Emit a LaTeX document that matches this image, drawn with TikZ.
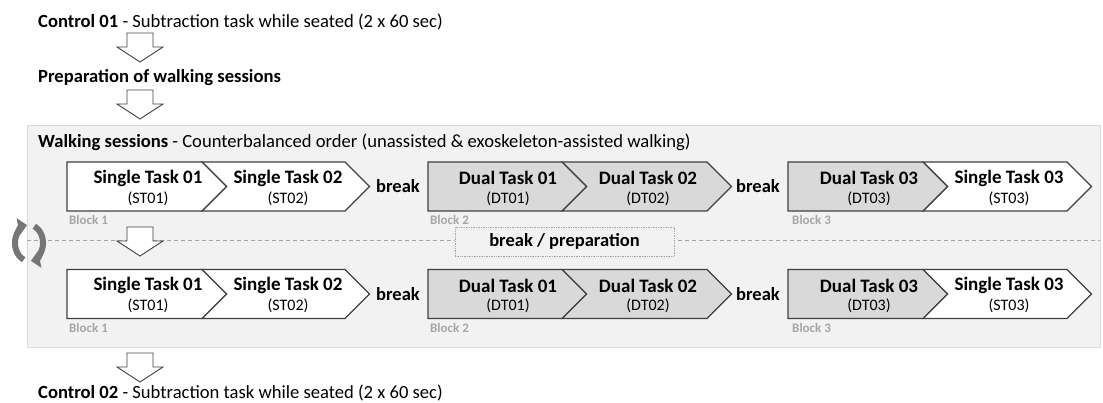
\documentclass[tikz,border=0pt]{standalone}
\usepackage{fontspec}
\setmainfont{Carlito}
\usetikzlibrary{arrows.meta}
\definecolor{panelfill}{HTML}{F2F2F2}
\definecolor{panelline}{HTML}{DADADA}
\definecolor{darkline}{HTML}{404040}
\definecolor{dualfill}{HTML}{D9D9D9}
\definecolor{labelgray}{HTML}{A6A6A6}
\definecolor{icongray}{HTML}{767676}
\tikzset{
  x=1pt, y=-1pt,
  maintext/.style={anchor=base west, inner sep=0pt, font=\fontsize{18.6}{22}\selectfont, text=black},
  taskname/.style={inner sep=0pt, font=\fontsize{19}{22}\selectfont\bfseries},
  taskcode/.style={inner sep=0pt, font=\fontsize{16}{18}\selectfont},
  breaklbl/.style={inner sep=0pt, font=\fontsize{18.5}{22}\selectfont\bfseries},
  blocklbl/.style={anchor=west, inner sep=0pt, font=\fontsize{13}{15}\selectfont\bfseries, text=labelgray},
  singlebox/.style={draw=darkline, fill=white, line width=1.1pt, line join=miter},
  dualbox/.style={draw=darkline, fill=dualfill, line width=1.1pt, line join=miter},
  blockarrow/.style={draw=darkline, fill=white, line width=0.9pt, line join=miter},
  cyc/.style={draw=icongray, line width=6pt, -{Triangle[length=9pt,width=17pt]}},
}
% hollow down arrow: #1 = centre x, #2 = top y
\newcommand{\downarrowshape}[2]{%
  \draw[blockarrow] (#1-13,#2) -- (#1+13,#2) -- (#1+13,#2+14) -- (#1+23,#2+14)
    -- (#1,#2+29) -- (#1-23,#2+14) -- (#1-13,#2+14) -- cycle;}
% first chevron (flat left): #1 style, #2 left x, #3 corner x, #4 top y
\newcommand{\firstchev}[4]{%
  \draw[#1] (#2,#4) -- (#3,#4) -- (#3+24.5,#4+24.5) -- (#3,#4+49) -- (#2,#4+49) -- cycle;}
% notched chevron: #1 style, #2 left x, #3 corner x, #4 top y
\newcommand{\nextchev}[4]{%
  \draw[#1] (#2,#4) -- (#3,#4) -- (#3+24.5,#4+24.5) -- (#3,#4+49) -- (#2,#4+49) -- (#2+24.5,#4+24.5) -- cycle;}
\begin{document}
\begin{tikzpicture}
\useasboundingbox (0,0) rectangle (1103,403);

% top part
\node[maintext] (c1) at (38,28) {\textbf{Control 01} - Subtraction task while seated (2 x 60 sec)};
\downarrowshape{140}{33}
\node[maintext] (prep) at (38,83) {\textbf{Preparation of walking sessions}};
\downarrowshape{140}{90}

% panel
\draw[panelline, fill=panelfill, line width=0.8pt] (27,125) rectangle (1100,347);
\node[maintext] (ws) at (38,148) {\textbf{Walking sessions} - Counterbalanced order (unassisted \& exoskeleton-assisted walking)};

% dashed separator
\coordinate (dl) at (27,240);
\coordinate (dr) at (1100,240);
\draw[labelgray, line width=0.8pt, dash pattern=on 4pt off 3pt] (dl) -- (dr);
\node[draw=labelgray, densely dotted, line width=0.7pt, fill=panelfill, minimum width=219pt, minimum height=29pt, inner sep=0pt,
      font=\fontsize{18.5}{22}\selectfont\bfseries] (bp) at (564.5,241.5) {break / preparation};
\downarrowshape{140}{227}

% ---- row 1 ----
\nextchev{singlebox}{202}{345}{162}
\firstchev{singlebox}{67}{202}{162}
\node[taskname] (st1a) at (148,178) {Single Task 01};
\node[taskcode] (st1ac) at (148,198.5) {(ST01)};
\node[taskname] (st2a) at (288,178) {Single Task 02};
\node[taskcode] (st2ac) at (288,198.5) {(ST02)};
\node[breaklbl] (br1a) at (398,186.5) {break};

\nextchev{dualbox}{562}{707}{162}
\firstchev{dualbox}{428}{562}{162}
\node[taskname] (dt1a) at (508,178) {Dual Task 01};
\node[taskcode] (dt1ac) at (508,198.5) {(DT01)};
\node[taskname] (dt2a) at (648,178) {Dual Task 02};
\node[taskcode] (dt2ac) at (648,198.5) {(DT02)};
\node[breaklbl] (br2a) at (758,186.5) {break};

\nextchev{singlebox}{923}{1067}{162}
\firstchev{dualbox}{788}{923}{162}
\node[taskname] (dt3a) at (869,178) {Dual Task 03};
\node[taskcode] (dt3ac) at (869,198.5) {(DT03)};
\node[taskname] (st3a) at (1009,178) {Single Task 03};
\node[taskcode] (st3ac) at (1009,198.5) {(ST03)};

\node[blocklbl] (b1a) at (69,220) {Block 1};
\node[blocklbl] (b2a) at (430,220) {Block 2};
\node[blocklbl] (b3a) at (792,220) {Block 3};

% ---- row 2 ----
\nextchev{singlebox}{202}{345}{269.5}
\firstchev{singlebox}{67}{202}{269.5}
\node[taskname] (st1b) at (148,285.5) {Single Task 01};
\node[taskcode] (st1bc) at (148,306) {(ST01)};
\node[taskname] (st2b) at (288,285.5) {Single Task 02};
\node[taskcode] (st2bc) at (288,306) {(ST02)};
\node[breaklbl] (br1b) at (398,294) {break};

\nextchev{dualbox}{562}{707}{269.5}
\firstchev{dualbox}{428}{562}{269.5}
\node[taskname] (dt1b) at (508,285.5) {Dual Task 01};
\node[taskcode] (dt1bc) at (508,306) {(DT01)};
\node[taskname] (dt2b) at (648,285.5) {Dual Task 02};
\node[taskcode] (dt2bc) at (648,306) {(DT02)};
\node[breaklbl] (br2b) at (758,294) {break};

\nextchev{singlebox}{923}{1067}{269.5}
\firstchev{dualbox}{788}{923}{269.5}
\node[taskname] (dt3b) at (869,285.5) {Dual Task 03};
\node[taskcode] (dt3bc) at (869,306) {(DT03)};
\node[taskname] (st3b) at (1009,285.5) {Single Task 03};
\node[taskcode] (st3bc) at (1009,306) {(ST03)};

\node[blocklbl] (b1b) at (69,328) {Block 1};
\node[blocklbl] (b2b) at (430,328) {Block 2};
\node[blocklbl] (b3b) at (792,328) {Block 3};

% cycle icon
\draw[cyc] (29,243) ++(112:14 and 18) arc[start angle=112, end angle=262, x radius=14, y radius=18];
\draw[cyc] (29,243) ++(292:14 and 18) arc[start angle=292, end angle=442, x radius=14, y radius=18];

% bottom
\downarrowshape{140}{353}
\node[maintext] (c2) at (38,398) {\textbf{Control 02} - Subtraction task while seated (2 x 60 sec)};
\end{tikzpicture}
\end{document}
